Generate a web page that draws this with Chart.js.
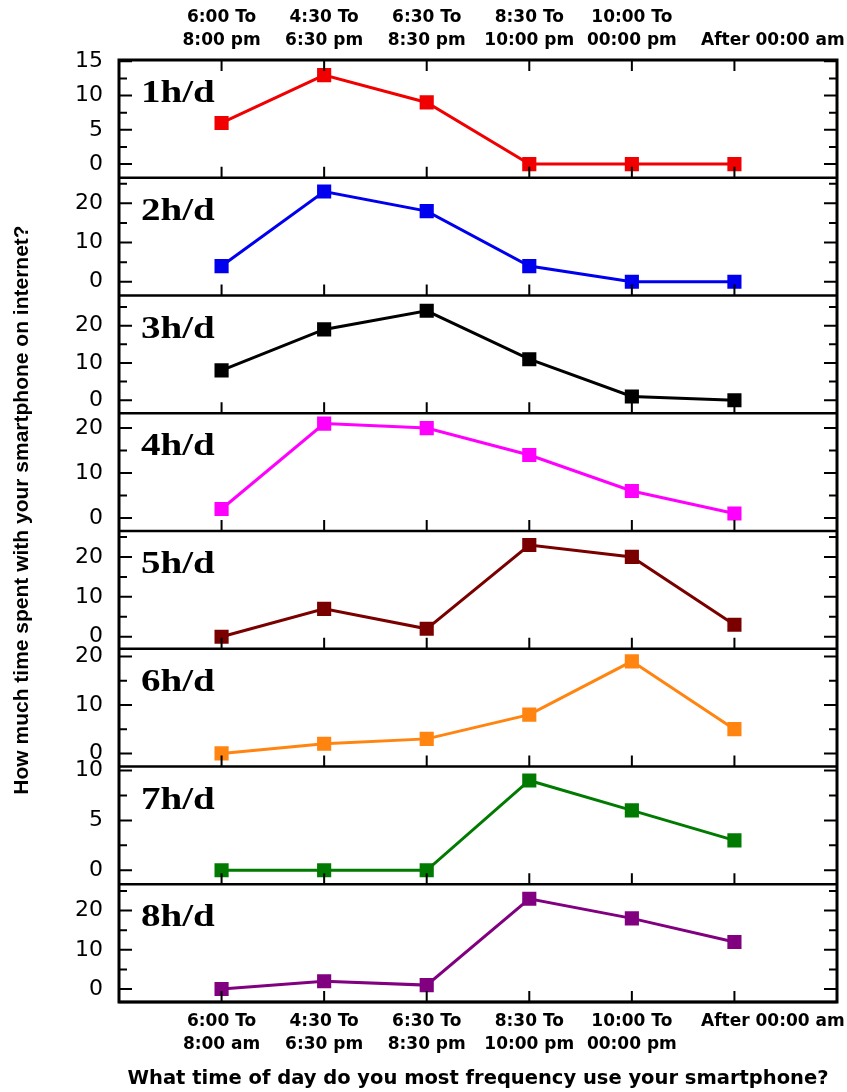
<!DOCTYPE html>
<html>
<head>
<meta charset="utf-8">
<script src="https://cdn.jsdelivr.net/npm/chart.js@4.4.1/dist/chart.umd.min.js"></script>
<style>
  html, body { margin: 0; padding: 0; background: #fff; }
  #wrap { width: 847px; height: 1092px; }
</style>
</head>
<body>
<div id="wrap"><canvas id="myChart" width="847" height="1092"></canvas></div>
<script>
// categories (slots 1..6 on a 0..7 axis)
var xPos = [1, 2, 3, 4, 5, 6];
var topLabels = [["6:00 To", "8:00 pm"], ["4:30 To", "6:30 pm"], ["6:30 To", "8:30 pm"], ["8:30 To", "10:00 pm"], ["10:00 To", "00:00 pm"], "After 00:00 am"];
var bottomLabels = [["6:00 To", "8:00 am"], ["4:30 To", "6:30 pm"], ["6:30 To", "8:30 pm"], ["8:30 To", "10:00 pm"], ["10:00 To", "00:00 pm"], "After 00:00 am"];

var panelNames = ['1h/d', '2h/d', '3h/d', '4h/d', '5h/d', '6h/d', '7h/d', '8h/d'];
var panelColors = ['#f00000', '#0000ee', '#000000', '#ff00ff', '#7a0000', '#ff8410', '#007a00', '#800080'];

// series values
var h1 = [6, 13, 9, 0, 0, 0];
var h2 = [4, 23, 18, 4, 0, 0];
var h3 = [8, 19, 24, 11, 1, 0];
var h4 = [2, 21, 20, 14, 6, 1];
var h5 = [0, 7, 2, 23, 20, 3];
var h6 = [0, 2, 3, 8, 19, 5];
var h7 = [0, 0, 0, 9, 6, 3];
var h8 = [0, 2, 1, 23, 18, 12];

// y tick labels per panel
var yTicks1 = [0, 5, 10, 15];
var yTicks2 = [0, 10, 20];
var yTicks3 = [0, 10, 20];
var yTicks4 = [0, 10, 20];
var yTicks5 = [0, 10, 20];
var yTicks6 = [0, 10, 20];
var yTicks7 = [0, 5, 10];
var yTicks8 = [0, 10, 20];

var xTitle = 'What time of day do you most frequency use your smartphone?';
var yTitle = 'How much time spent with your smartphone on internet?';

var series = [h1, h2, h3, h4, h5, h6, h7, h8];
var tickSets = [yTicks1, yTicks2, yTicks3, yTicks4, yTicks5, yTicks6, yTicks7, yTicks8];
var ranges = [[-2, 15.2], [-3.5, 26.5], [-3.5, 28.1], [-2.9, 23.3], [-3, 26.5], [-2.7, 21.6], [-1.4, 10.4], [-3.3, 26.7]];
var minorStep = [2.5, 5, 5, 5, 5, 5, 2.5, 5];

function xLabel(list, v) {
  var i = xPos.indexOf(v);
  if (i < 0) return '';
  // last label sits a bit right of its tick in the original
  if (i == list.length - 1) return '             ' + list[i];
  return list[i];
}

var tickFont = { family: 'DejaVu Sans', weight: 'bold', size: 17, lineHeight: 1.35 };

var scales = {
  x: {
    type: 'linear', position: 'bottom', min: 0, max: 7,
    grid: { display: false }, border: { display: false },
    afterBuildTicks: function(s) { s.ticks = xPos.map(function(v) { return { value: v }; }); },
    afterFit: function(s) { s.height = 90; },
    ticks: { autoSkip: false, maxRotation: 0, minRotation: 0, padding: 0, color: '#000', font: tickFont,
      callback: function(v) { return xLabel(bottomLabels, v); } },
    title: { display: true, text: xTitle, color: '#000',
      font: { family: 'DejaVu Sans', weight: 'bold', size: 19.5 }, padding: { top: 0, bottom: 1 } }
  },
  xt: {
    type: 'linear', position: 'top', min: 0, max: 7,
    grid: { display: false }, border: { display: false },
    afterBuildTicks: function(s) { s.ticks = xPos.map(function(v) { return { value: v }; }); },
    afterFit: function(s) { s.height = 58; },
    ticks: { autoSkip: false, maxRotation: 0, minRotation: 0, padding: 0, color: '#000', font: tickFont,
      callback: function(v) { return xLabel(topLabels, v); } }
  }
};

function makeY(i) {
  return {
    type: 'linear', position: 'left', stack: 'panels', stackWeight: 1, offset: false,
    min: ranges[i][0], max: ranges[i][1],
    grid: { display: false }, border: { display: false },
    afterBuildTicks: function(s) { s.ticks = tickSets[i].map(function(v) { return { value: v }; }); },
    afterFit: function(s) { s.width = 119; },
    ticks: { autoSkip: false, padding: 8, color: '#000', font: { family: 'DejaVu Sans', size: 22 } }
  };
}
// later scales end up on top of the stack
for (var i = 7; i >= 0; i--) {
  scales['y' + (i + 1)] = makeY(i);
}

var datasets = series.map(function(vals, i) {
  return {
    label: panelNames[i],
    data: vals.map(function(v, j) { return { x: xPos[j], y: v }; }),
    xAxisID: 'x',
    yAxisID: 'y' + (i + 1),
    borderColor: panelColors[i],
    backgroundColor: panelColors[i],
    borderWidth: 3,
    pointStyle: 'rect',
    pointRadius: 10,
    pointBorderWidth: 0,
    tension: 0
  };
});

var framePlugin = {
  id: 'frame',
  afterDatasetsDraw: function(chart) {
    var ctx = chart.ctx, a = chart.chartArea, xs = chart.scales.x;
    ctx.save();
    ctx.strokeStyle = '#000';
    ctx.fillStyle = '#000';
    for (var i = 0; i < 8; i++) {
      var s = chart.scales['y' + (i + 1)];
      ctx.lineWidth = 2.5;
      ctx.beginPath();
      ctx.moveTo(a.left, s.bottom);
      ctx.lineTo(a.right, s.bottom);
      ctx.stroke();

      ctx.lineWidth = 2;
      ctx.beginPath();
      xPos.forEach(function(v) {
        var px = xs.getPixelForValue(v);
        ctx.moveTo(px, s.bottom);
        ctx.lineTo(px, s.bottom - 11);
        if (i == 0) {
          ctx.moveTo(px, s.top);
          ctx.lineTo(px, s.top + 11);
        }
      });
      var m = minorStep[i];
      for (var v = Math.ceil(s.min / m) * m; v <= s.max + 0.001; v += m) {
        var py = s.getPixelForValue(v);
        var len = (Math.abs(v % (2 * m)) < 0.001) ? 13 : 8;
        ctx.moveTo(a.left, py);
        ctx.lineTo(a.left + len, py);
        ctx.moveTo(a.right, py);
        ctx.lineTo(a.right - len, py);
      }
      ctx.stroke();

      // panel name
      ctx.save();
      ctx.translate(a.left + 22, s.top + 42);
      ctx.scale(1.22, 1);
      ctx.font = 'bold 32px "Liberation Serif"';
      ctx.textAlign = 'left';
      ctx.textBaseline = 'alphabetic';
      ctx.fillText(panelNames[i], 0, 0);
      ctx.restore();
    }
    ctx.lineWidth = 3;
    ctx.strokeRect(a.left, a.top, a.right - a.left, a.bottom - a.top);

    // y axis title
    ctx.save();
    ctx.translate(22, 510);
    ctx.rotate(-Math.PI / 2);
    ctx.font = 'bold 21px "Liberation Sans"';
    ctx.textAlign = 'center';
    ctx.textBaseline = 'middle';
    ctx.fillText(yTitle, 0, 0);
    ctx.restore();
    ctx.restore();
  }
};

var ctx = document.getElementById('myChart').getContext('2d');
var myChart = new Chart(ctx, {
  type: 'line',
  data: { datasets: datasets },
  options: {
    responsive: false,
    animation: false,
    devicePixelRatio: 1,
    layout: { padding: { top: 2, left: 0, right: 9, bottom: 0 } },
    plugins: { legend: { display: false }, tooltip: { enabled: false } },
    scales: scales
  },
  plugins: [framePlugin]
});
</script>
</body>
</html>
